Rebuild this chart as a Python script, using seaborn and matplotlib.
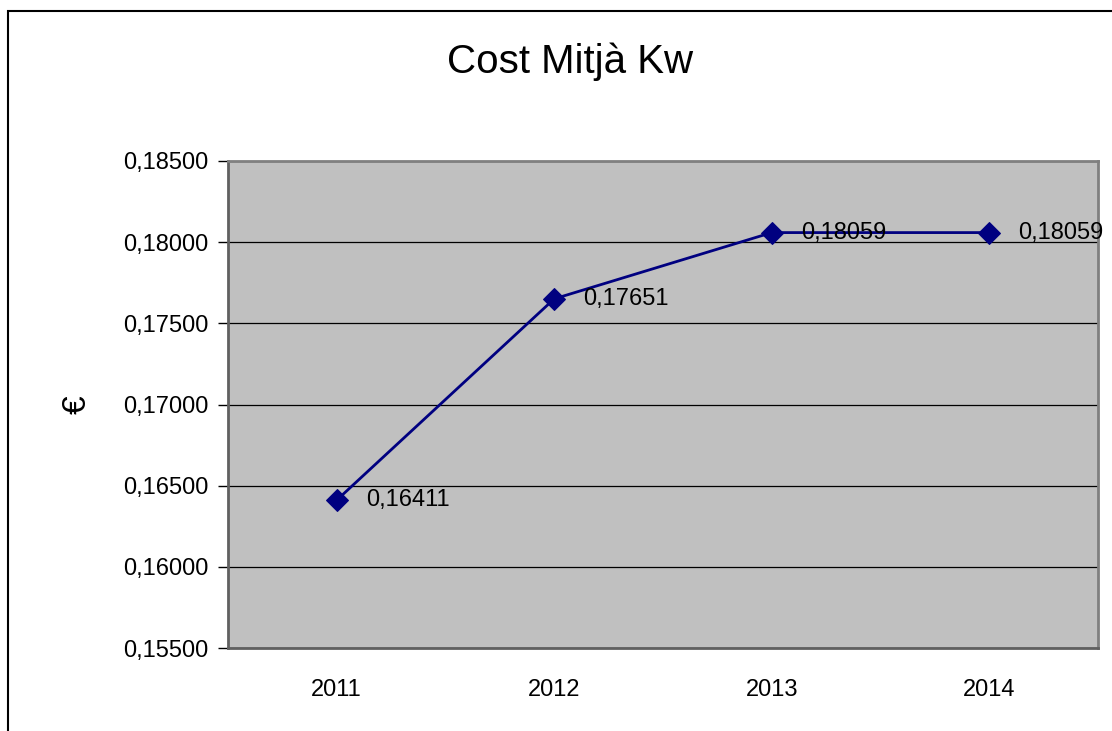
import matplotlib
matplotlib.use("Agg")
import matplotlib.pyplot as plt
import seaborn as sns
import pandas as pd
from matplotlib.patches import Rectangle

years = ["2011", "2012", "2013", "2014"]
values = [0.16411, 0.17651, 0.18059, 0.18059]
value_labels = ["0,16411", "0,17651", "0,18059", "0,18059"]
yticks = [0.155, 0.160, 0.165, 0.170, 0.175, 0.180, 0.185]
ytick_labels = ["0,15500", "0,16000", "0,16500", "0,17000", "0,17500", "0,18000", "0,18500"]

sns.set_style("white")
plt.rcParams['font.family'] = ['Liberation Sans', 'DejaVu Sans']
plt.rcParams['text.color'] = 'black'
plt.rcParams['axes.labelcolor'] = 'black'
plt.rcParams['xtick.color'] = 'black'
plt.rcParams['ytick.color'] = 'black'

fig = plt.figure(figsize=(11.12, 7.31), dpi=100)
ax = fig.add_axes([228/1112, 1-648/731, (1098-228)/1112, (648-161)/731])

df = pd.DataFrame({"year": years, "value": values})
x = list(range(len(years)))
sns.lineplot(x=x, y=df["value"], ax=ax, color="#000080", linewidth=2,
             marker="D", markersize=11, markeredgecolor="#000080", legend=False)

ax.set_facecolor("#C0C0C0")
ax.set_ylim(yticks[0], yticks[-1])
ax.set_xlim(-0.5, len(years) - 0.5)
ax.set_yticks(yticks)
ax.set_yticklabels(ytick_labels, fontsize=17)
ax.set_xticks(x)
ax.set_xticklabels(years, fontsize=17)
ax.set_xticks([i - 0.5 for i in range(len(years) + 1)], minor=True)
ax.tick_params(axis="x", which="major", length=0, pad=22)
ax.tick_params(axis="x", which="minor", length=7, width=1, color="black", direction="out")
ax.tick_params(axis="y", which="major", length=7, width=1, color="black", direction="out", pad=7, left=True)
ax.grid(axis="y", color="black", linewidth=0.9)
ax.set_axisbelow(True)
for s in ax.spines.values():
    s.set_color("#808080")
    s.set_linewidth(2)
ax.spines["left"].set_color("#606060")
ax.spines["bottom"].set_color("#606060")
ax.set_xlabel("")
ax.set_ylabel("€", fontsize=24, labelpad=22)

for xi, v, lab in zip(x, values, value_labels):
    ax.annotate(lab, (xi, v), xytext=(21, 0), textcoords="offset points",
                ha="left", va="center", fontsize=17, color="black")

fig.text(0.513, 1 - 62/731, "Cost Mitjà Kw", ha="center", va="center", fontsize=29)

fig.patches.append(Rectangle((8/1112, -0.1), 1.2, 1 - 11/731 + 0.1, transform=fig.transFigure,
                             fill=False, edgecolor="black", linewidth=1.5, figure=fig))

fig.savefig("out.png", dpi=100)
